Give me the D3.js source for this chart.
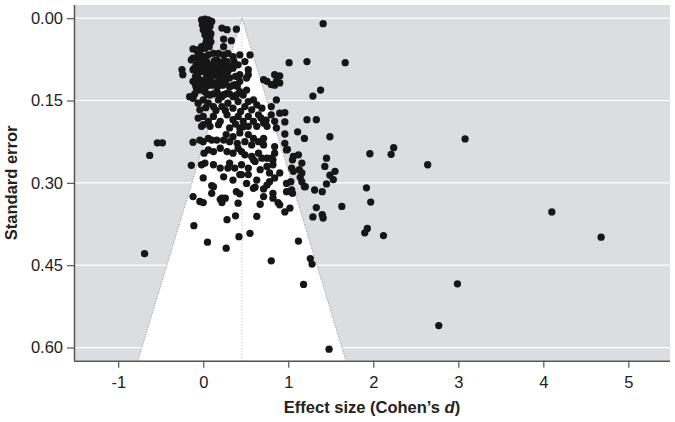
<!DOCTYPE html>
<html><head><meta charset="utf-8">
<script src="https://cdn.jsdelivr.net/npm/d3@7"></script>
<style>
html,body{margin:0;padding:0;background:#fff;}
svg{display:block;font-family:"Liberation Sans",Arial,sans-serif;}
</style></head>
<body>
<svg id="chart" width="675" height="422"></svg>
<script>
// ---- data ----
const xTicks = [-1, 0, 1, 2, 3, 4, 5];
const xTickLabels = ["-1", "0", "1", "2", "3", "4", "5"];
const yTicks = [0, 0.15, 0.30, 0.45, 0.60];
const yTickLabels = ["0.00", "0.15", "0.30", "0.45", "0.60"];
const xDomain = [-1.52, 5.49];
const yDomain = [-0.024, 0.624];
const pooledEffect = 0.455;
const zCrit = 1.96;
// [Cohen's d, standard error]
const studies = [
 [-0.02,0.003],[0.02,0.002],[0.06,0.003],[0.10,0.006],[-0.01,0.012],[0.04,0.012],[0.08,0.015],
 [0.00,0.021],[0.06,0.024],[0.02,0.030],[0.08,0.034],[0.04,0.040],[0.09,0.043],[-0.02,0.052],
 [0.02,0.055],[0.07,0.052],[0.22,0.018],[0.28,0.021],[0.39,0.020],[0.24,0.038],[0.33,0.041],
 [0.24,0.052],[-0.12,0.056],[-0.08,0.058],[-0.04,0.063],[0.05,0.018],[0.09,0.028],[0.03,0.046],
 [-0.12,0.073],[-0.06,0.067],[0.00,0.070],[0.06,0.067],[0.12,0.064],[0.18,0.064],[0.24,0.067],
 [0.29,0.064],[0.35,0.070],[0.43,0.067],[0.55,0.067],
 [-0.14,0.076],[-0.08,0.085],[-0.02,0.082],[0.04,0.079],[0.10,0.085],[0.16,0.076],[0.22,0.085],
 [0.28,0.079],[0.33,0.088],[0.41,0.085],[0.49,0.079],[0.53,0.094],[0.43,0.103],[0.53,0.103],
 [-0.05,0.078],[0.01,0.078],[0.13,0.078],[0.19,0.080],[0.25,0.078],[0.36,0.078],
 [-0.12,0.094],[-0.06,0.100],[0.00,0.097],[0.06,0.097],[0.12,0.100],[0.18,0.094],[0.24,0.100],
 [0.29,0.097],[0.35,0.091],[0.31,0.109],
 [-0.10,0.090],[-0.03,0.090],[0.03,0.090],[0.09,0.090],[0.15,0.089],[0.26,0.090],[0.31,0.092],
 [-0.12,0.115],[-0.04,0.112],[0.02,0.115],[0.08,0.112],[0.14,0.118],[0.20,0.115],[0.26,0.118],
 [0.31,0.125],[0.37,0.121],[0.43,0.115],[0.51,0.109],[0.71,0.112],[0.75,0.115],[0.84,0.103],
 [0.86,0.115],[0.90,0.118],[0.90,0.105],[0.84,0.122],[0.80,0.121],[-0.25,0.094],[-0.24,0.103],
 [-0.07,0.109],[-0.08,0.128],
 [-0.09,0.106],[0.04,0.106],[0.10,0.106],[0.17,0.106],[0.22,0.106],[0.27,0.107],[0.38,0.106],
 [-0.09,0.122],[-0.01,0.122],[0.05,0.123],[0.11,0.122],[0.17,0.124],[0.23,0.122],[0.34,0.123],[0.40,0.124],
 [-0.16,0.143],[-0.12,0.146],[-0.04,0.131],[0.02,0.134],[0.08,0.140],[0.16,0.134],[0.22,0.143],
 [0.28,0.137],[0.35,0.143],[0.43,0.134],[0.51,0.131],[0.59,0.149],
 [-0.10,0.138],[0.05,0.139],[0.12,0.138],[0.19,0.140],[0.25,0.139],[0.31,0.138],[0.39,0.140],[0.47,0.140],
 [-0.06,0.155],[0.00,0.149],[0.06,0.155],[0.12,0.161],[0.18,0.149],[0.22,0.161],[0.29,0.155],
 [0.35,0.164],[0.41,0.152],[0.49,0.161],[0.57,0.167],[0.63,0.158],[0.69,0.164],[0.80,0.161],
 [0.86,0.149],[0.80,0.176],[0.90,0.173],[0.96,0.172],[1.29,0.142],[1.38,0.131],[-0.04,0.167],
 [0.03,0.163],[0.15,0.168],[0.26,0.168],[0.44,0.170],[0.53,0.152],
 [-0.06,0.182],[0.00,0.179],[0.06,0.188],[0.12,0.179],[0.20,0.188],[0.28,0.176],[0.35,0.185],
 [0.41,0.179],[0.47,0.188],[0.53,0.179],[0.59,0.188],[0.65,0.176],[0.71,0.191],[0.75,0.197],
 [0.84,0.188],[0.00,0.194],[0.08,0.197],[0.18,0.194],[0.31,0.200],[0.43,0.200],[0.53,0.197],
 [0.63,0.197],[0.86,0.200],[0.74,0.186],[0.96,0.189],[1.11,0.207],[0.96,0.211],[1.19,0.219],
 [1.22,0.185],[1.33,0.185],[-0.02,0.197],[0.38,0.193],[0.47,0.198],[0.68,0.182],
 [0.06,0.219],[0.16,0.222],[0.24,0.222],[0.35,0.216],[0.43,0.209],[0.49,0.225],[0.59,0.219],
 [0.71,0.219],[0.84,0.234],[0.96,0.228],[0.10,0.222],[0.31,0.225],[0.57,0.231],[0.71,0.231],
 [0.99,0.239],[-0.12,0.226],[-0.54,0.227],[-0.48,0.227],[-0.04,0.222],[0.00,0.225],
 [0.27,0.212],[0.53,0.212],[0.65,0.225],[0.40,0.228],
 [0.06,0.240],[0.12,0.243],[0.20,0.237],[0.28,0.243],[0.35,0.246],[0.41,0.237],[0.49,0.249],
 [0.57,0.252],[0.65,0.246],[0.75,0.255],[0.84,0.246],[0.98,0.240],[1.06,0.252],[1.12,0.249],
 [1.16,0.264],[0.45,0.243],[0.69,0.255],[0.80,0.255],[0.59,0.258],[1.05,0.258],[0.82,0.258],
 [1.45,0.255],[-0.63,0.250],[-0.14,0.268],[0.01,0.246],[-0.02,0.267],
 [0.02,0.264],[0.12,0.267],[0.20,0.273],[0.31,0.264],[0.37,0.273],[0.45,0.267],[0.53,0.273],
 [0.61,0.261],[0.67,0.276],[0.75,0.270],[0.82,0.267],[0.90,0.282],[1.04,0.273],[1.16,0.282],
 [1.06,0.279],[0.29,0.273],[0.78,0.282],[0.53,0.285],[0.45,0.285],[1.43,0.270],[1.55,0.279],
 [1.49,0.286],[1.53,0.294],[1.45,0.302],[1.13,0.276],[1.14,0.290],[1.03,0.298],[1.19,0.307],
 [0.00,0.291],[0.12,0.307],[0.24,0.289],[0.35,0.295],[0.43,0.285],[0.51,0.301],[0.63,0.295],
 [0.75,0.304],[0.84,0.291],[0.98,0.301],[1.04,0.313],[1.16,0.298],[0.10,0.305],[0.78,0.298],
 [0.61,0.308],[0.71,0.311],[1.20,0.307],[1.31,0.313],[1.40,0.316],[0.98,0.316],[1.05,0.319],
 [-0.12,0.325],[-0.04,0.334],[0.10,0.319],[0.22,0.328],[0.39,0.316],[0.59,0.310],[0.71,0.325],
 [0.82,0.319],[0.00,0.336],[0.20,0.330],[0.26,0.328],[0.22,0.336],[0.43,0.320],[0.41,0.337],
 [0.67,0.339],[0.82,0.328],[0.88,0.336],[0.90,0.340],[0.96,0.353],[1.02,0.346],[1.33,0.345],
 [1.63,0.343],[1.29,0.362],[1.40,0.358],[1.41,0.364],
 [-0.11,0.378],[0.28,0.367],[0.38,0.360],[0.63,0.361],[0.05,0.408],[0.27,0.419],[0.42,0.398],
 [0.55,0.392],[0.80,0.442],[1.12,0.406],[1.26,0.438],[1.28,0.448],[1.18,0.485],[1.48,0.603],
 [-0.69,0.429],
 [1.41,0.010],[1.67,0.081],[1.01,0.081],[1.22,0.079],[1.49,0.216],[3.08,0.220],[2.24,0.236],
 [2.21,0.248],[1.96,0.247],[2.64,0.267],[1.92,0.309],[1.97,0.335],[4.10,0.353],[1.93,0.383],
 [1.90,0.391],[2.12,0.396],[4.68,0.399],[2.99,0.484],[2.77,0.560]
];

// ---- layout ----
const L = 74, R = 670, T = 5, B = 360.7;
const svg = d3.select("#chart");
const x = d3.scaleLinear().domain(xDomain).range([L, R]);
const y = d3.scaleLinear().domain(yDomain).range([T, B]);

svg.append("rect").attr("x", L).attr("y", T).attr("width", R - L).attr("height", B - T)
  .attr("fill", "#dcdde0");

svg.append("clipPath").attr("id", "plotclip").append("rect")
  .attr("x", L).attr("y", T).attr("width", R - L).attr("height", B - T);

// gridlines
svg.append("g").selectAll("line").data(yTicks).join("line")
  .attr("x1", L).attr("x2", R).attr("y1", d => y(d)).attr("y2", d => y(d))
  .attr("stroke", "#fff").attr("stroke-width", 1.2);

// funnel
const seMax = yDomain[1];
const funnel = [[pooledEffect, 0], [pooledEffect - zCrit * seMax, seMax], [pooledEffect + zCrit * seMax, seMax]];
const lineGen = d3.line().x(d => x(d[0])).y(d => y(d[1]));
svg.append("path").attr("clip-path", "url(#plotclip)")
  .attr("d", lineGen(funnel))
  .attr("fill", "#fff").attr("stroke", "none");
svg.append("path").attr("clip-path", "url(#plotclip)")
  .attr("d", lineGen(funnel.slice(0, 2)) + lineGen([funnel[0], funnel[2]]))
  .attr("fill", "none").attr("stroke", "#777").attr("stroke-width", 0.8).attr("stroke-dasharray", "1,1.5");
svg.append("line")
  .attr("x1", x(pooledEffect)).attr("x2", x(pooledEffect)).attr("y1", y(0)).attr("y2", y(seMax))
  .attr("stroke", "#aaa").attr("stroke-width", 0.8).attr("stroke-dasharray", "1,2");

// points
svg.append("g").selectAll("circle").data(studies).join("circle")
  .attr("cx", d => x(d[0])).attr("cy", d => y(d[1])).attr("r", 3.65).attr("fill", "#161616");

// axes
const xAxis = d3.axisBottom(x).tickValues(xTicks).tickSize(7).tickPadding(9).tickFormat((d, i) => xTickLabels[i]);
const gx = svg.append("g").attr("transform", `translate(0,${B})`).call(xAxis);
gx.select(".domain").attr("d", `M${L},0.5H${R}`);
const yAxis = d3.axisLeft(y).tickValues(yTicks).tickSize(7).tickPadding(4).tickFormat((d, i) => yTickLabels[i]);
const gy = svg.append("g").attr("transform", `translate(${L},0)`).call(yAxis);
gy.select(".domain").attr("d", `M0.5,${T}V${B}`);
[gx, gy].forEach(g => {
  g.selectAll(".domain").attr("stroke", "#555").attr("stroke-width", 1.5);
  g.selectAll(".tick line").attr("stroke", "#555").attr("stroke-width", 1.2);
  g.selectAll("text").attr("font-size", 16.5).attr("fill", "#222").attr("font-family", "Liberation Sans, Arial, sans-serif");
});

// titles
const xt = svg.append("text").attr("x", (L + R) / 2).attr("y", 413).attr("text-anchor", "middle")
  .attr("font-size", 16.5).attr("font-weight", "bold").attr("fill", "#222");
xt.append("tspan").text("Effect size (Cohen\u2019s ");
xt.append("tspan").attr("font-style", "italic").text("d");
xt.append("tspan").text(")");

svg.append("text").attr("transform", `translate(17,${(T + B) / 2}) rotate(-90)`).attr("text-anchor", "middle")
  .attr("font-size", 16.5).attr("font-weight", "bold").attr("fill", "#222").text("Standard error");
</script>
</body></html>
